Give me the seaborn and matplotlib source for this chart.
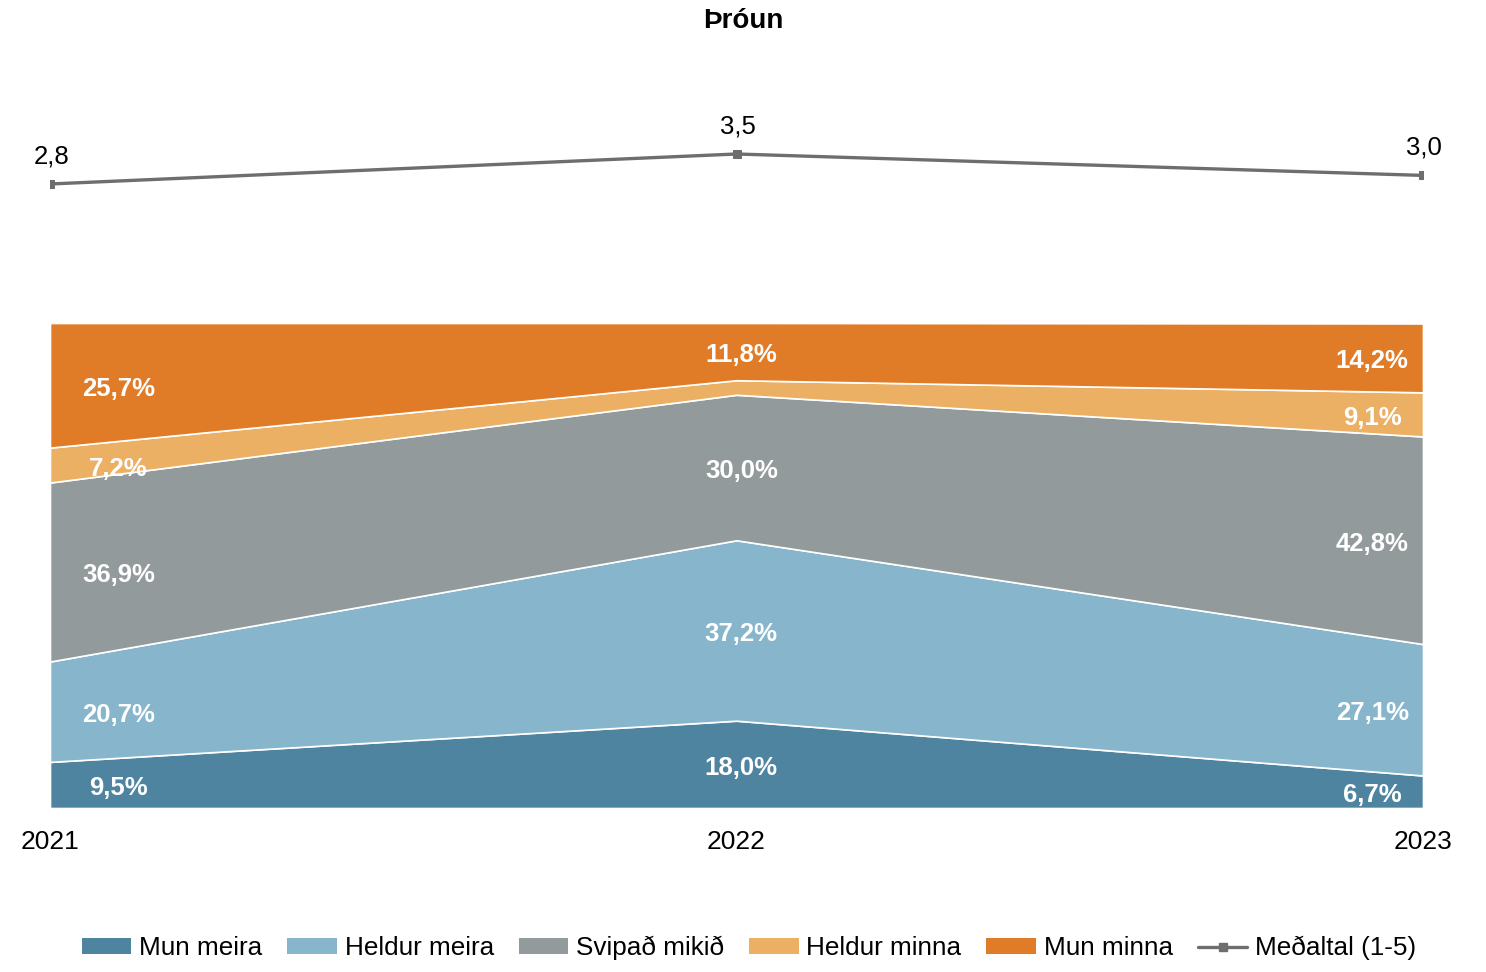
import matplotlib
matplotlib.use('Agg')
import matplotlib.pyplot as plt
import seaborn as sns
import numpy as np
import pandas as pd
from matplotlib.patches import Patch
from matplotlib.lines import Line2D

# ---------------------- data ----------------------
years = ['2021', '2022', '2023']
series_names = ['Mun meira', 'Heldur meira', 'Svipað mikið', 'Heldur minna', 'Mun minna']
mun_meira = [9.5, 18.0, 6.7]
heldur_meira = [20.7, 37.2, 27.1]
svipad = [36.9, 30.0, 42.8]
heldur_minna = [7.2, 3.0, 9.1]
mun_minna = [25.7, 11.8, 14.2]
medaltal = [2.8, 3.5, 3.0]
line_name = 'Meðaltal (1-5)'

colors = ['#4E84A0', '#86B5CC', '#939A9B', '#ECB065', '#E07C27']
line_color = '#6E6E6E'

sns.set_theme(style='white')
plt.rcParams['font.family'] = ['Liberation Sans', 'DejaVu Sans']
plt.rcParams['text.color'] = 'black'
plt.rcParams['xtick.color'] = 'black'

fig = plt.figure(figsize=(14.86, 9.72), dpi=100)
W, H = 1486, 972

# bottom: 100% stacked area
ax = fig.add_axes([50 / W, 1 - 808 / H, (1423 - 50) / W, (808 - 323) / H])
x = np.arange(len(years))
stack = np.array([mun_meira, heldur_meira, svipad, heldur_minna, mun_minna])
ax.stackplot(x, stack, colors=colors, edgecolor='white', linewidth=1.2)
ax.set_xlim(0, 2)
ax.set_ylim(0, 100)
ax.set_yticks([])
ax.set_xticks(x)
ax.set_xticklabels(years, fontsize=19)
ax.tick_params(axis='x', length=0, pad=16)
for s in ax.spines.values():
    s.set_visible(False)

# value labels
x_off = [0.10, 0.007, -0.074]
cum = np.cumsum(stack, axis=0)
for j in range(stack.shape[0]):
    for i in range(len(years)):
        v = stack[j, i]
        if v < 5:
            continue
        yc = cum[j, i] - v / 2 - 0.7
        ax.text(i + x_off[i], yc, f"{v:.1f}".replace('.', ',') + '%',
                ha='center', va='center', color='white', fontsize=18.5,
                fontweight='bold')

# top: average line
ax2 = fig.add_axes([50 / W, 1 - 300 / H, (1423 - 50) / W, 200 / H])
df_line = pd.DataFrame({'x': x, 'y': medaltal})
sns.lineplot(data=df_line, x='x', y='y', ax=ax2, color=line_color,
             linewidth=2.4, marker='s', markersize=6, markeredgecolor=line_color)
ax2.set_xlim(0, 2)
ax2.set_ylim(0.093, 4.76)
ax2.axis('off')
for i, v in enumerate(medaltal):
    ax2.annotate(f"{v:.1f}".replace('.', ','), (i, v), xytext=(1, 20),
                 textcoords='offset points', ha='center', va='center',
                 fontsize=18.5, color='black')

fig.text(0.5, 1 - 21 / H, 'Þróun', ha='center', va='center',
         fontsize=20, fontweight='bold')

handles = [Patch(facecolor=c, edgecolor='none') for c in colors]
handles.append(Line2D([0], [0], color=line_color, linewidth=2.4,
                      marker='s', markersize=6))
fig.legend(handles, series_names + [line_name], loc='center', ncol=6,
           bbox_to_anchor=(0.504, 1 - 948 / H), frameon=False, fontsize=18.8,
           handlelength=1.9, handleheight=0.55, handletextpad=0.3,
           columnspacing=0.95)

fig.savefig('out.png', dpi=100)
